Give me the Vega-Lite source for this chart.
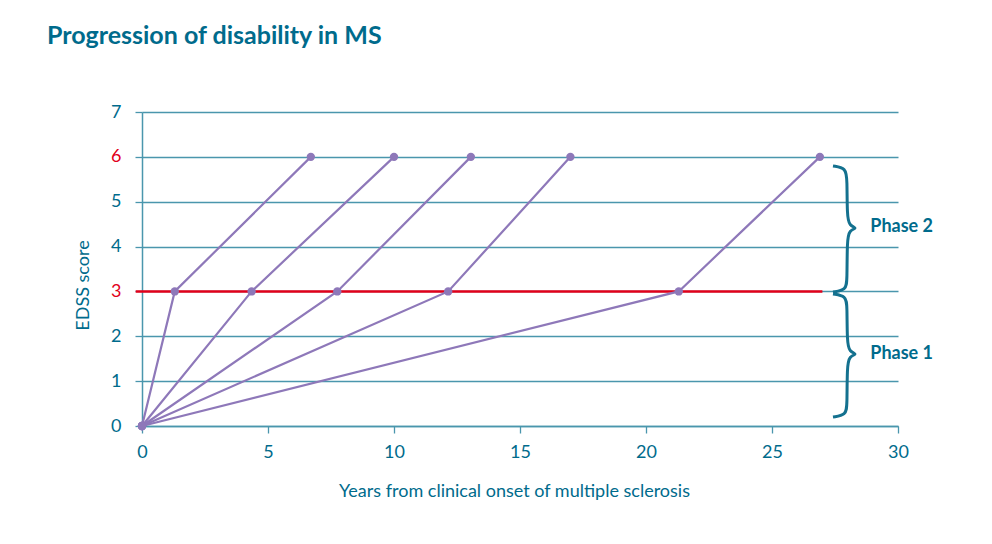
{
  "$schema": "https://vega.github.io/schema/vega-lite/v6.json",
  "width": 756,
  "height": 314,
  "autosize": {"type": "none"},
  "padding": {"left": 142, "top": 112, "right": 94, "bottom": 118},
  "background": "white",
  "title": {
    "text": "Progression of disability in MS",
    "anchor": "start",
    "frame": "group",
    "dx": -95,
    "offset": 54,
    "font": "Lato",
    "fontSize": 25,
    "fontWeight": "bold",
    "color": "#006b8c"
  },
  "config": {"view": {"stroke": null}, "font": "Lato"},
  "datasets": {
    "paths": [
      {"patient": "A", "step": 0, "years": 0, "edss": 0},
      {"patient": "A", "step": 1, "years": 1.3, "edss": 3},
      {"patient": "A", "step": 2, "years": 6.7, "edss": 6},
      {"patient": "B", "step": 0, "years": 0, "edss": 0},
      {"patient": "B", "step": 1, "years": 4.35, "edss": 3},
      {"patient": "B", "step": 2, "years": 10.0, "edss": 6},
      {"patient": "C", "step": 0, "years": 0, "edss": 0},
      {"patient": "C", "step": 1, "years": 7.75, "edss": 3},
      {"patient": "C", "step": 2, "years": 13.05, "edss": 6},
      {"patient": "D", "step": 0, "years": 0, "edss": 0},
      {"patient": "D", "step": 1, "years": 12.15, "edss": 3},
      {"patient": "D", "step": 2, "years": 17.0, "edss": 6},
      {"patient": "E", "step": 0, "years": 0, "edss": 0},
      {"patient": "E", "step": 1, "years": 21.3, "edss": 3},
      {"patient": "E", "step": 2, "years": 26.9, "edss": 6}
    ],
    "threshold": [{"years": -0.25, "years_end": 27.0, "edss": 3}],
    "braces": [
      {"phase": "Phase 2", "order": 0, "years": 27.42, "edss": 5.796},
      {"phase": "Phase 2", "order": 1, "years": 27.94, "edss": 5.752},
      {"phase": "Phase 2", "order": 2, "years": 27.98, "edss": 5.484},
      {"phase": "Phase 2", "order": 3, "years": 27.98, "edss": 4.704},
      {"phase": "Phase 2", "order": 4, "years": 28.06, "edss": 4.459},
      {"phase": "Phase 2", "order": 5, "years": 28.41, "edss": 4.414},
      {"phase": "Phase 2", "order": 6, "years": 28.06, "edss": 4.369},
      {"phase": "Phase 2", "order": 7, "years": 27.98, "edss": 4.124},
      {"phase": "Phase 2", "order": 8, "years": 27.98, "edss": 3.255},
      {"phase": "Phase 2", "order": 9, "years": 27.94, "edss": 3.032},
      {"phase": "Phase 2", "order": 10, "years": 27.42, "edss": 2.987},
      {"phase": "Phase 1", "order": 0, "years": 27.42, "edss": 2.943},
      {"phase": "Phase 1", "order": 1, "years": 27.94, "edss": 2.898},
      {"phase": "Phase 1", "order": 2, "years": 27.98, "edss": 2.675},
      {"phase": "Phase 1", "order": 3, "years": 27.98, "edss": 1.895},
      {"phase": "Phase 1", "order": 4, "years": 28.06, "edss": 1.65},
      {"phase": "Phase 1", "order": 5, "years": 28.41, "edss": 1.605},
      {"phase": "Phase 1", "order": 6, "years": 28.06, "edss": 1.561},
      {"phase": "Phase 1", "order": 7, "years": 27.98, "edss": 1.315},
      {"phase": "Phase 1", "order": 8, "years": 27.98, "edss": 0.468},
      {"phase": "Phase 1", "order": 9, "years": 27.94, "edss": 0.245},
      {"phase": "Phase 1", "order": 10, "years": 27.42, "edss": 0.201}
    ],
    "phases": [
      {"label": "Phase 2", "years": 28.9, "edss": 4.44},
      {"label": "Phase 1", "years": 28.9, "edss": 1.6}
    ]
  },
  "encoding": {
    "x": {
      "field": "years",
      "type": "quantitative",
      "scale": {"domain": [0, 30], "nice": false, "zero": false},
      "axis": {
        "title": "Years from clinical onset of multiple sclerosis",
        "values": [0, 5, 10, 15, 20, 25, 30],
        "grid": false,
        "labelFlush": false,
        "domainColor": "#4a96ad",
        "domainWidth": 1.5,
        "tickColor": "#4a96ad",
        "tickWidth": 1.3,
        "tickSize": 7,
        "labelColor": "#006b8c",
        "labelFont": "Lato",
        "labelFontSize": 18,
        "labelPadding": 10,
        "titleColor": "#006b8c",
        "titleFont": "Lato",
        "titleFontSize": 18,
        "titleFontWeight": "normal",
        "titlePadding": 21,
        "titleX": 372
      }
    },
    "y": {
      "field": "edss",
      "type": "quantitative",
      "scale": {"domain": [0, 7], "nice": false, "zero": false},
      "axis": {
        "title": "EDSS score",
        "values": [0, 1, 2, 3, 4, 5, 6, 7],
        "grid": true,
        "labelFlush": false,
        "gridColor": "#4a96ad",
        "gridWidth": 1.3,
        "gridOpacity": 1,
        "domainColor": "#4a96ad",
        "domainWidth": 1.5,
        "tickColor": "#4a96ad",
        "tickWidth": 1.3,
        "tickSize": 7,
        "labelColor": {"condition": {"test": "datum.value == 3 || datum.value == 6", "value": "#e2001a"}, "value": "#006b8c"},
        "labelFont": "Lato",
        "labelFontSize": 18,
        "labelPadding": 14,
        "titleColor": "#006b8c",
        "titleFont": "Lato",
        "titleFontSize": 18,
        "titleFontWeight": "normal",
        "titleX": -50,
        "titleY": 173
      }
    }
  },
  "layer": [
    {
      "data": {"name": "threshold"},
      "mark": {"type": "rule", "color": "#e2001a", "strokeWidth": 2.5},
      "encoding": {"x2": {"field": "years_end"}}
    },
    {
      "data": {"name": "paths"},
      "mark": {"type": "line", "color": "#8e78b9", "strokeWidth": 2.2},
      "encoding": {"detail": {"field": "patient"}, "order": {"field": "step", "type": "quantitative"}}
    },
    {
      "data": {"name": "paths"},
      "mark": {"type": "point", "filled": true, "color": "#8e78b9", "size": 70, "opacity": 1},
      "encoding": {}
    },
    {
      "data": {"name": "braces"},
      "mark": {"type": "line", "color": "#14718f", "strokeWidth": 3, "interpolate": "basis"},
      "encoding": {"detail": {"field": "phase"}, "order": {"field": "order", "type": "quantitative"}}
    },
    {
      "data": {"name": "phases"},
      "mark": {"type": "text", "align": "left", "baseline": "middle", "font": "Lato", "fontSize": 18, "fontWeight": "bold", "color": "#006b8c"},
      "encoding": {"text": {"field": "label"}}
    }
  ]
}
